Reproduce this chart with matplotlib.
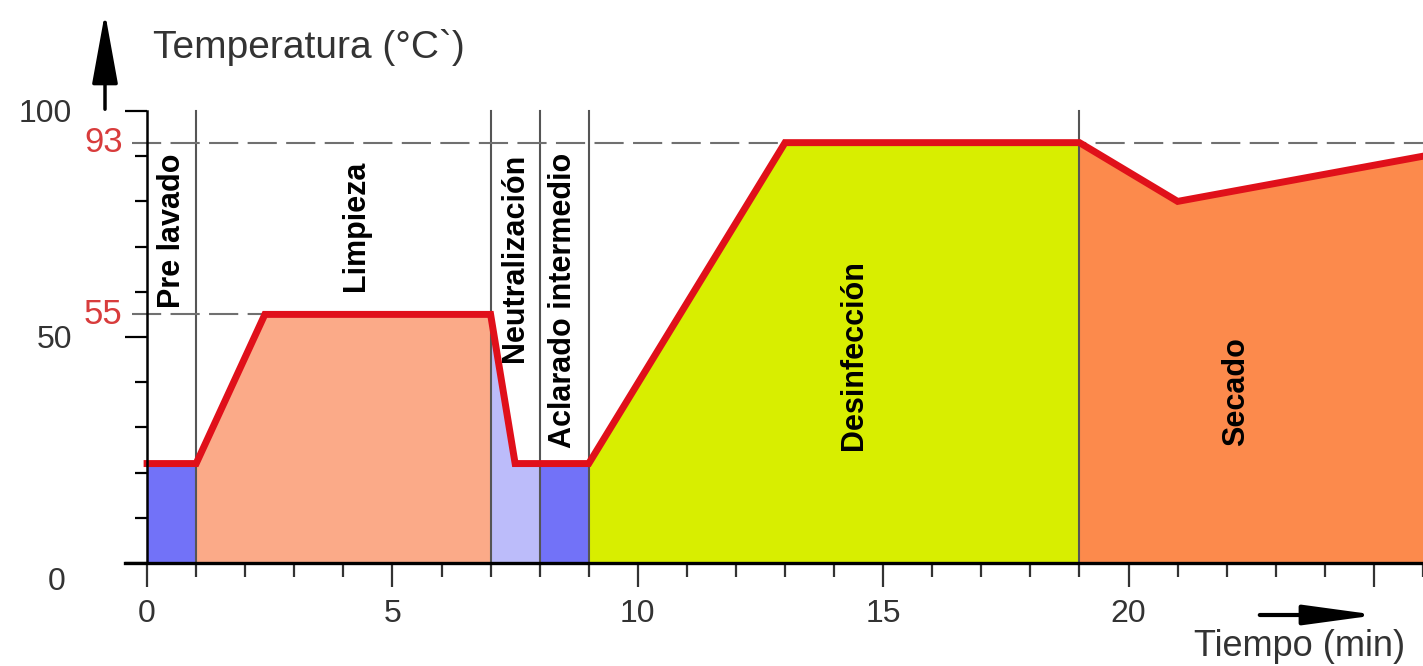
import matplotlib.pyplot as plt
import matplotlib.transforms as mtransforms
from matplotlib.patches import Rectangle

# temperature profile of the washing cycle (minutes, degrees C)
tiempo = [0, 1, 2.4, 7, 7.5, 9, 13, 19, 21, 26]
temperatura = [22, 22, 55, 55, 22, 22, 93, 93, 80, 90]

# phases: start, end, fill colour, label, label position
fase_inicio = [0, 1, 7, 8, 9, 19]
fase_fin = [1, 7, 8, 9, 19, 26]
fase_color = ['#7272f8', '#fbaa88', '#bcbcfa', '#7272f8', '#d8ee00', '#fc8a4c']
fase_nombre = ['Pre lavado', 'Limpieza', 'Neutralización', 'Aclarado intermedio',
               'Desinfección', 'Secado']
fase_x = [0.5, 4.25, 7.5, 8.47, 14.4, 22.2]
fase_y = [73.5, 74.5, 67.5, 58, 46, 38]

x_ticks = [0, 5, 10, 15, 20, 25]
x_labels = ['0', '5', '10', '15', '20', '']
y_ticks = [0, 50, 100]
marcas = [55, 93]

plt.rcParams['font.family'] = ['Liberation Sans', 'DejaVu Sans']
fase_font = ['Liberation Sans Narrow', 'Liberation Sans', 'DejaVu Sans']

fig = plt.figure(figsize=(14.23, 6.66), dpi=100)
ax = fig.add_axes([125 / 1423, 1 - 563 / 666, 1298 / 1423, 452 / 666])
ax.set_xlim(-0.45, 26.0)
ax.set_ylim(0, 100)

# coloured areas under the curve, one per phase
for a, b, c in zip(fase_inicio, fase_fin, fase_color):
    poly = ax.fill_between(tiempo, temperatura, 0, color=c, lw=0, zorder=1)
    clip = Rectangle((a, 0), b - a, 100, transform=ax.transData)
    poly.set_clip_path(clip)

# phase separators
for b in fase_fin[:-1]:
    ax.plot([b, b], [0, 100], color='#555555', lw=1.5, zorder=2, clip_on=False)

# reference levels
ax.plot([-0.3, 26.0], [93, 93], color='#707070', lw=1.5, dashes=(14, 4.5), zorder=2)
ax.plot([-0.3, 2.45], [55, 55], color='#707070', lw=1.5, dashes=(14, 4.5), zorder=2)
for m in marcas:
    ax.text(-0.5, m, str(m), color='#d83c3c', fontsize=25, ha='right', va='center')

ax.plot(tiempo, temperatura, color='#e0101a', lw=5, solid_joinstyle='miter',
        zorder=4, clip_on=False)

for nombre, x, y in zip(fase_nombre, fase_x, fase_y):
    ax.text(x, y, nombre, rotation=90, ha='center', va='center', fontsize=22,
            fontweight='bold', family=fase_font, zorder=5)

# axes
for s in ['top', 'right']:
    ax.spines[s].set_visible(False)
ax.spines['left'].set_position(('data', 0))
ax.spines['left'].set_linewidth(1.8)
ax.spines['bottom'].set_linewidth(2.4)
ax.spines['left'].set_zorder(6)
ax.spines['bottom'].set_zorder(6)

ax.set_xticks(x_ticks)
ax.set_xticklabels(x_labels)
ax.set_xticks(range(0, 27), minor=True)
ax.tick_params(axis='x', which='major', length=17, width=1.6, pad=9,
               labelsize=23, labelcolor='#333333', color='#333333')
ax.tick_params(axis='x', which='minor', length=10, width=1.6, color='#333333')

ax.set_yticks(y_ticks)
ax.set_yticks(range(0, 101, 10), minor=True)
ax.tick_params(axis='y', which='major', length=16, width=1.6, pad=38,
               labelsize=23, labelcolor='#333333')
ax.tick_params(axis='y', which='minor', length=9, width=1.6)
for lab in ax.get_yticklabels():
    if lab.get_text() == '0':
        off = mtransforms.ScaledTranslation(-7 / 100, -15 / 100, fig.dpi_scale_trans)
        lab.set_transform(lab.get_transform() + off)

# axis arrows and titles
ax.annotate('', xy=(105 / 1423, 1 - 10 / 666), xytext=(105 / 1423, 1 - 112 / 666),
            xycoords='figure fraction', textcoords='figure fraction',
            arrowprops=dict(arrowstyle='-|>,head_length=2.2,head_width=0.4',
                            mutation_scale=20, lw=2.5, color='black'))
fig.text(153 / 1423, 1 - 47 / 666, 'Temperatura (°C`)', fontsize=28,
         color='#333333', ha='left', va='center')

ax.annotate('', xy=(1380 / 1423, 1 - 615 / 666), xytext=(1257 / 1423, 1 - 615 / 666),
            xycoords='figure fraction', textcoords='figure fraction',
            arrowprops=dict(arrowstyle='-|>,head_length=2.2,head_width=0.3',
                            mutation_scale=20, lw=3, color='black'))
fig.text(1194 / 1423, 1 - 656 / 666, 'Tiempo (min)', fontsize=26,
         color='#333333', ha='left', va='baseline')

fig.savefig('out.png', dpi=100)
